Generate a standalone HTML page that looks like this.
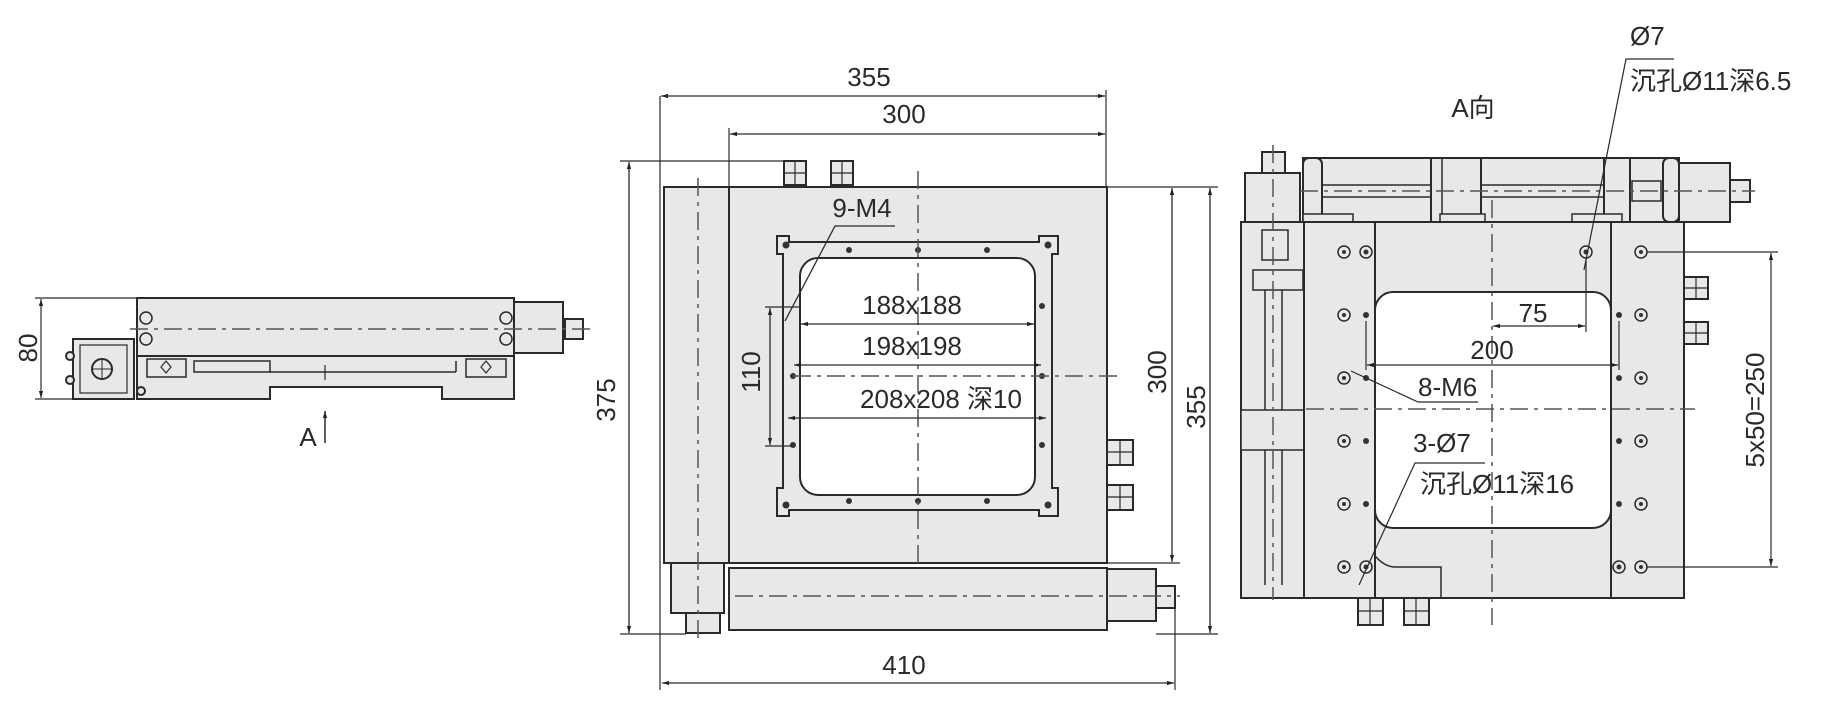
<!DOCTYPE html>
<html><head><meta charset="utf-8"><style>
html,body{margin:0;padding:0;background:#fff;}
svg{display:block;}
text{font-family:"Liberation Sans Narrow","Liberation Sans","Noto Sans CJK SC",sans-serif;fill:#2a2a2a;}
</style></head><body>
<svg width="1830" height="705" viewBox="0 0 1830 705" xmlns="http://www.w3.org/2000/svg">
<defs>
<marker id="ar" viewBox="0 0 10 10" refX="10" refY="5" markerWidth="9" markerHeight="7" orient="auto-start-reverse" markerUnits="userSpaceOnUse"><path d="M0,2 L10,5 L0,8 z" fill="#222"/></marker>
</defs>
<g stroke="#2a2a2a" stroke-width="2" fill="#e8e8e8">
<!-- ========== LEFT SIDE VIEW ========== -->
<rect x="137" y="298" width="377" height="58"/>
<path d="M137,356 H514 V399 H442 V387 H270 V399 H207 V399 H137 Z"/>
<rect x="147" y="359" width="39" height="18" fill="none" stroke-width="1.5"/>
<rect x="466" y="359" width="40" height="18" fill="none" stroke-width="1.5"/>
<path d="M166,361 l5,6 -5,6 -5,-6z M486,361 l5,6 -5,6 -5,-6z" fill="none" stroke-width="1.2"/>
<rect x="194" y="361" width="76" height="11" fill="none" stroke-width="1.5"/>
<line x1="270" y1="372" x2="456" y2="372" stroke-width="1.5"/>
<line x1="456" y1="361" x2="456" y2="372" stroke-width="1.5"/>
<rect x="73" y="339" width="61" height="60"/>
<rect x="80" y="345" width="47" height="48" fill="none" stroke-width="1.2"/>
<circle cx="102" cy="369" r="10" fill="none"/>
<line x1="92" y1="369" x2="112" y2="369" stroke-width="1"/><line x1="102" y1="359" x2="102" y2="379" stroke-width="1"/>
<circle cx="70" cy="356" r="4"/><circle cx="70" cy="380" r="4"/><circle cx="141" cy="391" r="4"/>
<rect x="514" y="302" width="49" height="51"/>
<rect x="565" y="319" width="18" height="20"/>
<g fill="none" stroke-width="1.5"><circle cx="146" cy="318" r="6"/><circle cx="146" cy="339" r="6"/><circle cx="506" cy="318" r="6"/><circle cx="506" cy="339" r="6"/></g>
<line x1="130" y1="329" x2="590" y2="329" stroke="#555" stroke-width="1.5" stroke-dasharray="18,6,4,6"/>
<line x1="325" y1="365" x2="325" y2="380" stroke-width="1.2"/>
<!-- 80 dim -->
<line x1="35" y1="298" x2="137" y2="298" stroke-width="1.2"/>
<line x1="35" y1="399" x2="73" y2="399" stroke-width="1.2"/>
<line x1="41" y1="299" x2="41" y2="398" stroke-width="1.2" marker-start="url(#ar)" marker-end="url(#ar)"/>
<line x1="325" y1="443" x2="325" y2="411" stroke-width="1.5" marker-end="url(#ar)"/>

<!-- ========== MIDDLE TOP VIEW ========== -->
<rect x="664" y="187" width="65" height="376"/>
<rect x="729" y="187" width="378" height="376"/>
<rect x="671" y="563" width="53" height="50"/>
<rect x="686" y="613" width="34" height="20"/>
<rect x="729" y="568" width="378" height="62"/>
<rect x="1107" y="569" width="49" height="52"/>
<rect x="1156" y="586" width="19" height="22"/>
<path d="M777,236 h12 v6 h250 v-6 h19 v18 h-6 v234 h6 v28 h-19 v-6 h-250 v6 h-12 v-28 h6 v-234 h-6 z"/>
<rect x="800" y="258" width="235" height="237" rx="18" fill="#fff"/>
<rect x="784" y="161" width="22" height="24"/><line x1="795" y1="161" x2="795" y2="185" stroke-width="1.2"/><line x1="784" y1="173" x2="806" y2="173" stroke-width="1.2"/>
<rect x="831" y="161" width="22" height="24"/><line x1="842" y1="161" x2="842" y2="185" stroke-width="1.2"/><line x1="831" y1="173" x2="853" y2="173" stroke-width="1.2"/>
<rect x="1107" y="440" width="26" height="25"/><line x1="1120" y1="440" x2="1120" y2="465" stroke-width="1.2"/><line x1="1107" y1="452" x2="1133" y2="452" stroke-width="1.2"/>
<rect x="1107" y="485" width="26" height="25"/><line x1="1120" y1="485" x2="1120" y2="510" stroke-width="1.2"/><line x1="1107" y1="497" x2="1133" y2="497" stroke-width="1.2"/>
<g fill="#333" stroke="none">
<circle cx="786" cy="245" r="3.5"/><circle cx="1048" cy="245" r="3.5"/><circle cx="786" cy="505" r="3.5"/><circle cx="1048" cy="505" r="3.5"/>
<circle cx="849" cy="250" r="3"/><circle cx="918" cy="250" r="3"/><circle cx="987" cy="250" r="3"/>
<circle cx="849" cy="501" r="3"/><circle cx="918" cy="501" r="3"/><circle cx="987" cy="501" r="3"/>
<circle cx="793" cy="376" r="3"/><circle cx="793" cy="445" r="3"/>
<circle cx="1042" cy="306" r="3"/><circle cx="1042" cy="376" r="3"/><circle cx="1042" cy="445" r="3"/>
</g>
<g stroke="#555" stroke-width="1.5" stroke-dasharray="18,6,4,6" fill="none">
<line x1="918" y1="171" x2="918" y2="563"/>
<line x1="793" y1="376" x2="1118" y2="376"/>
<line x1="698" y1="178" x2="698" y2="640"/>
<line x1="735" y1="596" x2="1180" y2="596"/>
</g>
<g stroke-width="1.2" fill="none">
<!-- extension lines -->
<line x1="660" y1="96" x2="660" y2="690"/>
<line x1="1106" y1="90" x2="1106" y2="187"/>
<line x1="729" y1="128" x2="729" y2="187"/>
<line x1="1175" y1="596" x2="1175" y2="690"/>
<line x1="1107" y1="187" x2="1218" y2="187"/>
<line x1="1107" y1="563" x2="1180" y2="563"/>
<line x1="1156" y1="634" x2="1218" y2="634"/>
<line x1="620" y1="161" x2="784" y2="161"/>
<line x1="620" y1="634" x2="686" y2="634"/>
<line x1="765" y1="307" x2="800" y2="307"/>
<line x1="765" y1="446" x2="793" y2="446"/>
</g>
<g stroke-width="1.3" fill="none">
<line x1="661" y1="96" x2="1105" y2="96" marker-start="url(#ar)" marker-end="url(#ar)"/>
<line x1="730" y1="134" x2="1105" y2="134" marker-start="url(#ar)" marker-end="url(#ar)"/>
<line x1="662" y1="683" x2="1174" y2="683" marker-start="url(#ar)" marker-end="url(#ar)"/>
<line x1="1172" y1="188" x2="1172" y2="562" marker-start="url(#ar)" marker-end="url(#ar)"/>
<line x1="1210" y1="188" x2="1210" y2="633" marker-start="url(#ar)" marker-end="url(#ar)"/>
<line x1="629" y1="162" x2="629" y2="633" marker-start="url(#ar)" marker-end="url(#ar)"/>
<line x1="770" y1="308" x2="770" y2="445" marker-start="url(#ar)" marker-end="url(#ar)"/>
<line x1="801" y1="324" x2="1034" y2="324" marker-start="url(#ar)" marker-end="url(#ar)"/>
<line x1="794" y1="365" x2="1041" y2="365" marker-start="url(#ar)" marker-end="url(#ar)"/>
<line x1="788" y1="418" x2="1046" y2="418" marker-start="url(#ar)" marker-end="url(#ar)"/>
<polyline points="895,226 835,226 785,321"/>
</g>

<!-- ========== RIGHT VIEW (A向) ========== -->
<rect x="1303" y="158" width="376" height="64"/>
<rect x="1303" y="158" width="19" height="64" rx="6"/>
<rect x="1663" y="158" width="16" height="64" rx="6"/>
<rect x="1431" y="158" width="50" height="64"/>
<line x1="1442" y1="158" x2="1442" y2="222" stroke-width="1.5"/>
<rect x="1604" y="158" width="26" height="64"/>
<line x1="1322" y1="185" x2="1431" y2="185" stroke-width="1.5"/><line x1="1322" y1="197" x2="1431" y2="197" stroke-width="1.5"/>
<line x1="1481" y1="185" x2="1604" y2="185" stroke-width="1.5"/><line x1="1481" y1="197" x2="1604" y2="197" stroke-width="1.5"/>
<rect x="1632" y="181" width="29" height="20" stroke-width="1.5"/>
<rect x="1679" y="163" width="51" height="59"/>
<rect x="1730" y="180" width="20" height="22"/>
<rect x="1303" y="214" width="50" height="8" stroke-width="1.5"/>
<rect x="1440" y="214" width="45" height="8" stroke-width="1.5"/>
<rect x="1572" y="214" width="50" height="8" stroke-width="1.5"/>
<rect x="1241" y="222" width="63" height="376"/>
<rect x="1245" y="173" width="55" height="49"/>
<rect x="1262" y="152" width="23" height="21"/>
<rect x="1253" y="270" width="50" height="20" stroke-width="1.5"/>
<rect x="1241" y="410" width="63" height="40" stroke-width="1.5"/>
<rect x="1262" y="230" width="26" height="30" stroke-width="1.5"/>
<line x1="1265" y1="290" x2="1265" y2="410" stroke-width="1.5"/><line x1="1282" y1="290" x2="1282" y2="410" stroke-width="1.5"/>
<line x1="1265" y1="450" x2="1265" y2="585" stroke-width="1.5"/><line x1="1282" y1="450" x2="1282" y2="585" stroke-width="1.5"/>
<rect x="1304" y="222" width="380" height="376"/>
<line x1="1375" y1="222" x2="1375" y2="598"/>
<line x1="1611" y1="222" x2="1611" y2="598"/>
<rect x="1375" y="292" width="236" height="236" rx="18" fill="#fff"/>
<path d="M1375,556 q10,11 20,11 h46 v31" fill="none" stroke-width="1.5"/>
<rect x="1358" y="598" width="25" height="27"/><line x1="1370" y1="598" x2="1370" y2="625" stroke-width="1.2"/><line x1="1358" y1="611" x2="1383" y2="611" stroke-width="1.2"/>
<rect x="1404" y="598" width="25" height="27"/><line x1="1416" y1="598" x2="1416" y2="625" stroke-width="1.2"/><line x1="1404" y1="611" x2="1429" y2="611" stroke-width="1.2"/>
<rect x="1684" y="277" width="24" height="22"/><line x1="1696" y1="277" x2="1696" y2="299" stroke-width="1.2"/><line x1="1684" y1="288" x2="1708" y2="288" stroke-width="1.2"/>
<rect x="1684" y="322" width="24" height="22"/><line x1="1696" y1="322" x2="1696" y2="344" stroke-width="1.2"/><line x1="1684" y1="333" x2="1708" y2="333" stroke-width="1.2"/>
<g fill="none" stroke-width="1.5">
<circle cx="1344" cy="252" r="6"/><circle cx="1344" cy="315" r="6"/><circle cx="1344" cy="378" r="6"/><circle cx="1344" cy="441" r="6"/><circle cx="1344" cy="504" r="6"/><circle cx="1344" cy="567" r="6"/>
<circle cx="1641" cy="252" r="6"/><circle cx="1641" cy="315" r="6"/><circle cx="1641" cy="378" r="6"/><circle cx="1641" cy="441" r="6"/><circle cx="1641" cy="504" r="6"/><circle cx="1641" cy="567" r="6"/>
<circle cx="1366" cy="252" r="6"/><circle cx="1586" cy="252" r="6"/><circle cx="1366" cy="567" r="6"/><circle cx="1619" cy="567" r="6"/>
</g>
<g fill="#333" stroke="none">
<circle cx="1344" cy="252" r="2"/><circle cx="1344" cy="315" r="2"/><circle cx="1344" cy="378" r="2"/><circle cx="1344" cy="441" r="2"/><circle cx="1344" cy="504" r="2"/><circle cx="1344" cy="567" r="2"/>
<circle cx="1641" cy="252" r="2"/><circle cx="1641" cy="315" r="2"/><circle cx="1641" cy="378" r="2"/><circle cx="1641" cy="441" r="2"/><circle cx="1641" cy="504" r="2"/><circle cx="1641" cy="567" r="2"/>
<circle cx="1366" cy="252" r="2.5"/><circle cx="1586" cy="252" r="2.5"/><circle cx="1366" cy="567" r="2.5"/><circle cx="1619" cy="567" r="2.5"/>
<circle cx="1366" cy="315" r="3"/><circle cx="1366" cy="378" r="3"/><circle cx="1366" cy="441" r="3"/><circle cx="1366" cy="504" r="3"/>
<circle cx="1619" cy="315" r="3"/><circle cx="1619" cy="378" r="3"/><circle cx="1619" cy="441" r="3"/><circle cx="1619" cy="504" r="3"/>
</g>
<g stroke="#555" stroke-width="1.5" stroke-dasharray="18,6,4,6" fill="none">
<line x1="1492" y1="200" x2="1492" y2="625"/>
<line x1="1306" y1="409" x2="1695" y2="409"/>
<line x1="1300" y1="191" x2="1755" y2="191"/>
<line x1="1273" y1="145" x2="1273" y2="600"/>
</g>
<g stroke-width="1.2" fill="none">
<line x1="1647" y1="252" x2="1778" y2="252"/>
<line x1="1647" y1="567" x2="1778" y2="567"/>
<line x1="1771" y1="253" x2="1771" y2="566" marker-start="url(#ar)" marker-end="url(#ar)"/>
<line x1="1586" y1="258" x2="1586" y2="332"/>
<line x1="1493" y1="326" x2="1585" y2="326" marker-start="url(#ar)" marker-end="url(#ar)"/>
<line x1="1366" y1="321" x2="1366" y2="370"/>
<line x1="1619" y1="321" x2="1619" y2="370"/>
<line x1="1367" y1="365" x2="1618" y2="365" marker-start="url(#ar)" marker-end="url(#ar)"/>
<polyline points="1478,402 1418,402 1351,371"/>
<polyline points="1485,463 1415,463 1359,585"/>
<polyline points="1674,59 1626,59 1584,270"/>
</g>
</g>

<!-- TEXT -->
<g font-size="26" text-anchor="middle">
<text x="28" y="348" transform="rotate(-90 28 348)" dy="9">80</text>
<text x="308" y="446">A</text>
<text x="869" y="86">355</text>
<text x="904" y="123">300</text>
<text x="904" y="674">410</text>
<text x="606" y="400" transform="rotate(-90 606 400)" dy="9">375</text>
<text x="751" y="372" transform="rotate(-90 751 372)" dy="9">110</text>
<text x="1157" y="372" transform="rotate(-90 1157 372)" dy="9">300</text>
<text x="1196" y="407" transform="rotate(-90 1196 407)" dy="9">355</text>
<text x="862" y="217">9-M4</text>
<text x="912" y="314">188x188</text>
<text x="912" y="355">198x198</text>
<text x="941" y="408">208x208 深10</text>
<text x="1473" y="117">A向</text>
<text x="1533" y="322">75</text>
<text x="1492" y="359">200</text>
<text x="1755" y="410" transform="rotate(-90 1755 410)" dy="9">5x50=250</text>
</g>
<g font-size="26" text-anchor="start">
<text x="1418" y="396">8-M6</text>
<text x="1413" y="452">3-Ø7</text>
<text x="1420" y="493">沉孔Ø11深16</text>
<text x="1630" y="45">Ø7</text>
<text x="1630" y="90">沉孔Ø11深6.5</text>
</g>
</svg>
</body></html>
